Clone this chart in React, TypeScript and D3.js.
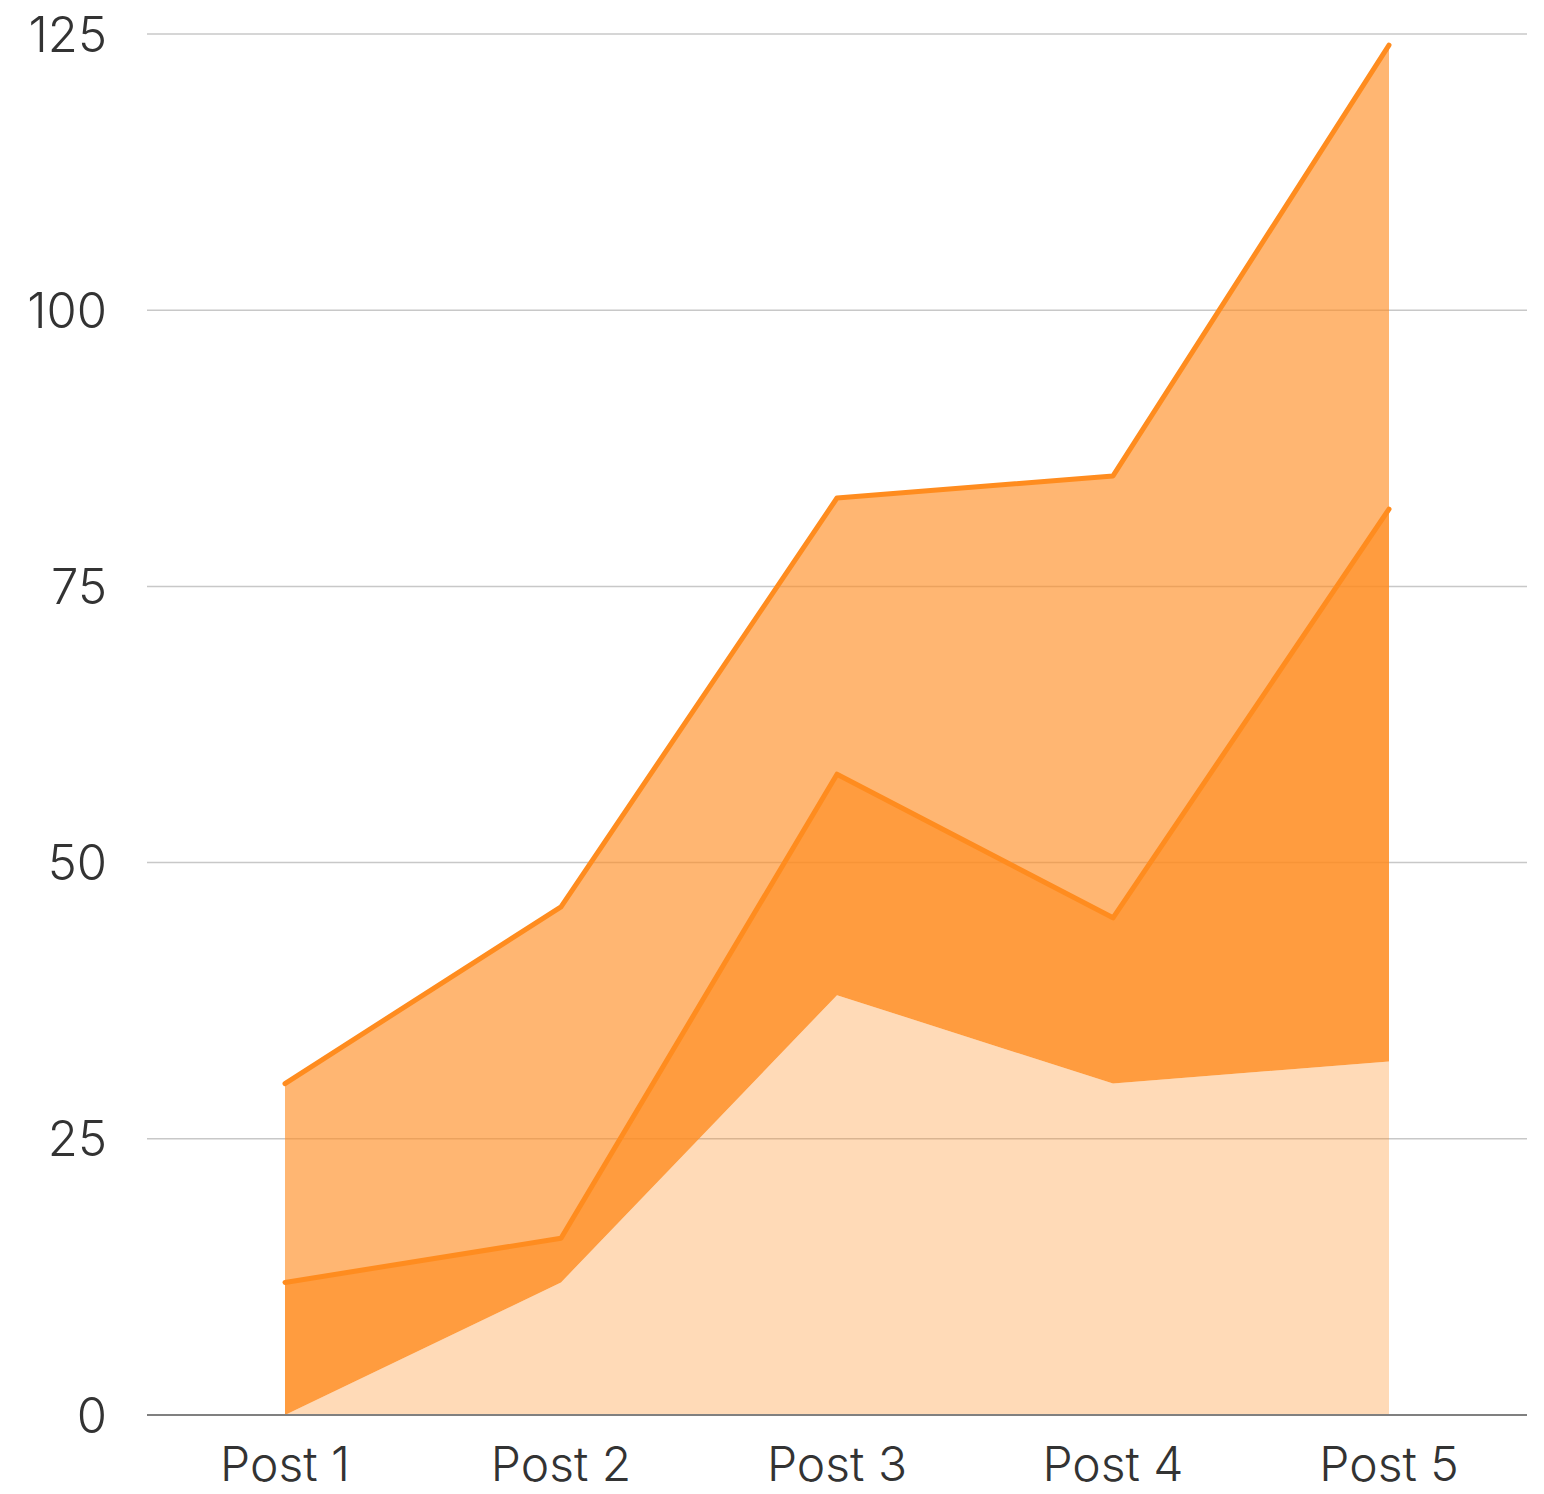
import React from "react";
import * as d3 from "d3";

const categories = ["Post 1", "Post 2", "Post 3", "Post 4", "Post 5"];
const lowerValues = [0, 12, 38, 30, 32];
const middleValues = [12, 16, 58, 45, 82];
const upperValues = [30, 46, 83, 85, 124];
const yTicks = [0, 25, 50, 75, 100, 125];

const W = 1544;
const H = 1494;
const margin = { left: 147, right: 17, top: 34, bottom: 79 };

export default function App() {
  const x = d3
    .scalePoint<string>()
    .domain(categories)
    .range([margin.left, W - margin.right])
    .padding(0.5);
  const y = d3
    .scaleLinear()
    .domain([0, 125])
    .range([H - margin.bottom, margin.top]);

  const idx = categories.map((_, i) => i);
  const band = (lo: number[] | null, hi: number[]) =>
    d3
      .area<number>()
      .x((i) => x(categories[i])!)
      .y0((i) => y(lo ? lo[i] : 0))
      .y1((i) => y(hi[i]))(idx)!;
  const line = (vals: number[]) =>
    d3
      .line<number>()
      .x((i) => x(categories[i])!)
      .y((i) => y(vals[i]))(idx)!;

  const font = "Inter, 'Helvetica Neue', Arial, sans-serif";

  return (
    <svg width={W} height={H} style={{ display: "block", position: "absolute", left: 0, top: 0 }}>
      <rect width={W} height={H} fill="#fff" />
      {yTicks.map((t) =>
        t === 0 ? null : (
          <line key={t} x1={margin.left} x2={W - margin.right} y1={y(t)} y2={y(t)} stroke="#c8c8c8" strokeWidth={1.5} />
        )
      )}
      <path d={band(null, lowerValues)} fill="#FF8C1F" fillOpacity={0.32} />
      <path d={band(lowerValues, middleValues)} fill="#FF8C1F" fillOpacity={0.86} />
      <path d={band(middleValues, upperValues)} fill="#FF8C1F" fillOpacity={0.63} />
      <path d={line(middleValues)} fill="none" stroke="#FF8C1F" strokeWidth={5} strokeLinecap="round" strokeLinejoin="round" />
      <path d={line(upperValues)} fill="none" stroke="#FF8C1F" strokeWidth={5} strokeLinecap="round" strokeLinejoin="round" />
      <line x1={margin.left} x2={W - margin.right} y1={y(0)} y2={y(0)} stroke="#808080" strokeWidth={2} />
      {yTicks.map((t) => (
        <text key={t} x={107} y={y(t)} dy="0.36em" textAnchor="end" fontFamily={font} fontWeight={300} fontSize={49} fill="#333">
          {t}
        </text>
      ))}
      {categories.map((c) => (
        <text key={c} x={x(c)} y={1481} textAnchor="middle" fontFamily={font} fontWeight={300} fontSize={48} fill="#333">
          {c}
        </text>
      ))}
    </svg>
  );
}
